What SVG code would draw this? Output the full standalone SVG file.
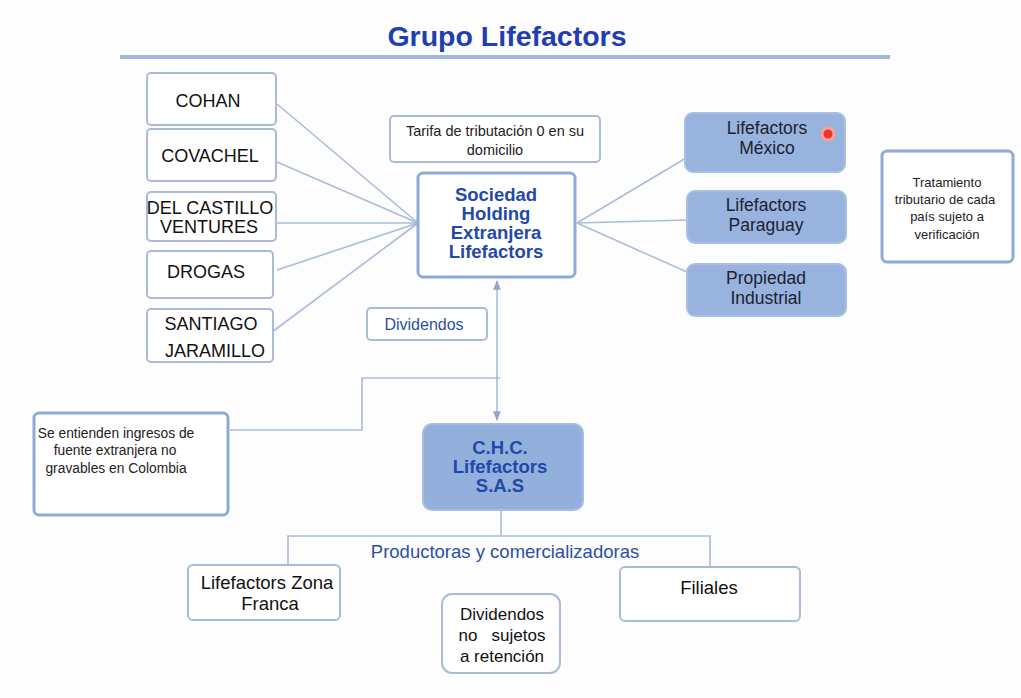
<svg xmlns="http://www.w3.org/2000/svg" width="1021" height="698" viewBox="0 0 1021 698">
<defs>
<style>
.box{fill:#fff;stroke:#a9bbd8;stroke-width:2}
.wbox{fill:#fff;stroke:#8eaad6;stroke-width:3}
.fbox{fill:#97b3de;stroke:#a9bfe2;stroke-width:2}
.conn{fill:none;stroke:#a9bcdb;stroke-width:1.6}
.t{font-family:"Liberation Sans",Arial,sans-serif;text-anchor:middle}
.blk{font-size:18px;fill:#111}
.sm{font-size:13px;fill:#222}
.hub{font-size:18.5px;font-weight:bold;fill:#1f4aa8}
.rt{font-size:17.5px;fill:#1c2230}
</style>
<marker id="ah" viewBox="0 0 10 10" refX="9" refY="5" markerWidth="6" markerHeight="6" orient="auto-start-reverse"><path d="M0,1 L10,5 L0,9 z" fill="#8ea6cf"/></marker>
</defs>
<rect width="1021" height="698" fill="#fdfdfe"/>
<g id="title">
<text x="507" y="46" class="t" style="font-size:28.5px;font-weight:bold;fill:#1f3fb0">Grupo Lifefactors</text>
<line x1="120" y1="57" x2="890" y2="57" stroke="#9fb6dd" stroke-width="4"/>
</g>
<g id="connectors">
<line class="conn" x1="277" y1="104" x2="418" y2="223"/>
<line class="conn" x1="277" y1="162" x2="418" y2="223"/>
<line class="conn" x1="277" y1="223" x2="418" y2="223"/>
<line class="conn" x1="277" y1="270" x2="418" y2="223"/>
<line class="conn" x1="268" y1="335" x2="418" y2="223"/>
<line class="conn" x1="577" y1="223" x2="686" y2="158"/>
<line class="conn" x1="577" y1="223" x2="687" y2="220"/>
<line class="conn" x1="577" y1="223" x2="687" y2="272"/>
<line class="conn" x1="497" y1="281" x2="497" y2="420" marker-start="url(#ah)" marker-end="url(#ah)"/>
<polyline class="conn" points="500,378 362,378 362,430 230,430"/>
<polyline class="conn" points="501,511 501,536"/>
<polyline class="conn" points="288,566 288,536 710,536 710,568"/>
</g>
<g id="n-cohan"><rect class="box" x="147" y="73" width="129" height="52" rx="4"/><text class="t blk" x="208" y="107">COHAN</text></g>
<g id="n-covachel"><rect class="box" x="147" y="129" width="129" height="52" rx="4"/><text class="t blk" x="210" y="162">COVACHEL</text></g>
<g id="n-delcastillo"><rect class="box" x="147" y="192" width="129" height="49" rx="4"/><text class="t blk" x="210" y="214">DEL CASTILLO</text><text class="t blk" x="209" y="233">VENTURES</text></g>
<g id="n-drogas"><rect class="box" x="147" y="251" width="126" height="47" rx="4"/><text class="t blk" x="206" y="278">DROGAS</text></g>
<g id="n-santiago"><rect class="box" x="147" y="309" width="126" height="53" rx="4"/><text class="t blk" x="211" y="330">SANTIAGO</text><text class="t blk" x="215" y="357">JARAMILLO</text></g>
<g id="n-tarifa"><rect class="box" x="390" y="116" width="210" height="46" rx="4"/><text class="t sm" x="495" y="136" style="font-size:14.5px">Tarifa de tributación 0 en su</text><text class="t sm" x="495" y="155" style="font-size:14.5px">domicilio</text></g>
<g id="n-holding"><rect class="wbox" x="418" y="173" width="157" height="104" rx="5"/>
<text class="t hub" x="496" y="201">Sociedad</text><text class="t hub" x="496" y="220">Holding</text><text class="t hub" x="496" y="239">Extranjera</text><text class="t hub" x="496" y="258">Lifefactors</text></g>
<g id="n-mexico"><rect class="fbox" x="685" y="113" width="160" height="59" rx="8"/><text class="t rt" x="767" y="134">Lifefactors</text><text class="t rt" x="767" y="154">México</text><circle cx="828" cy="134" r="6" fill="#e8362a" stroke="#f7a19a" stroke-width="3"/></g>
<g id="n-paraguay"><rect class="fbox" x="687" y="191" width="159" height="52" rx="8"/><text class="t rt" x="766" y="211">Lifefactors</text><text class="t rt" x="766" y="231">Paraguay</text></g>
<g id="n-propiedad"><rect class="fbox" x="687" y="264" width="159" height="52" rx="8"/><text class="t rt" x="766" y="284">Propiedad</text><text class="t rt" x="766" y="304">Industrial</text></g>
<g id="n-tratamiento"><rect class="wbox" x="882" y="151" width="131" height="111" rx="5"/><text class="t sm" x="947" y="187">Tratamiento</text><text class="t sm" x="945" y="204">tributario de cada</text><text class="t sm" x="947" y="221">país sujeto a</text><text class="t sm" x="947" y="239">verificación</text></g>
<g id="n-dividendos"><rect class="box" x="367" y="308" width="120" height="32" rx="4"/><text class="t" x="424" y="330" style="font-size:16px;fill:#2c4fa6">Dividendos</text></g>
<g id="n-seentienden"><rect class="wbox" x="34" y="413" width="194" height="102" rx="5"/><text class="t sm" x="116" y="438" style="font-size:13.8px">Se entienden ingresos de</text><text class="t sm" x="115" y="455" style="font-size:13.8px">fuente extranjera no</text><text class="t sm" x="116" y="473" style="font-size:13.8px">gravables en Colombia</text></g>
<g id="n-chc"><rect x="423" y="424" width="160" height="86" rx="9" fill="#93b0dd" stroke="#a6bde3" stroke-width="2"/><text class="t hub" x="500" y="454">C.H.C.</text><text class="t hub" x="500" y="473">Lifefactors</text><text class="t hub" x="500" y="492">S.A.S</text></g>
<g id="l-productoras"><text class="t" x="505" y="558" style="font-size:18.5px;fill:#2c4fa6">Productoras y comercializadoras</text></g>
<g id="n-zonafranca"><rect class="box" x="188" y="565" width="152" height="55" rx="5"/><text class="t blk" x="267" y="589" style="font-size:18.5px">Lifefactors Zona</text><text class="t blk" x="270" y="610" style="font-size:18.5px">Franca</text></g>
<g id="n-filiales"><rect class="box" x="620" y="567" width="180" height="54" rx="5"/><text class="t blk" x="709" y="594" style="font-size:18.5px">Filiales</text></g>
<g id="n-nosujetos"><rect class="box" x="442" y="594" width="118" height="79" rx="10"/><text class="t blk" x="502" y="620" style="font-size:17px">Dividendos</text><text class="t blk" x="502" y="641" style="font-size:17px;white-space:pre">no   sujetos</text><text class="t blk" x="502" y="662" style="font-size:17px">a retención</text></g>
</svg>
